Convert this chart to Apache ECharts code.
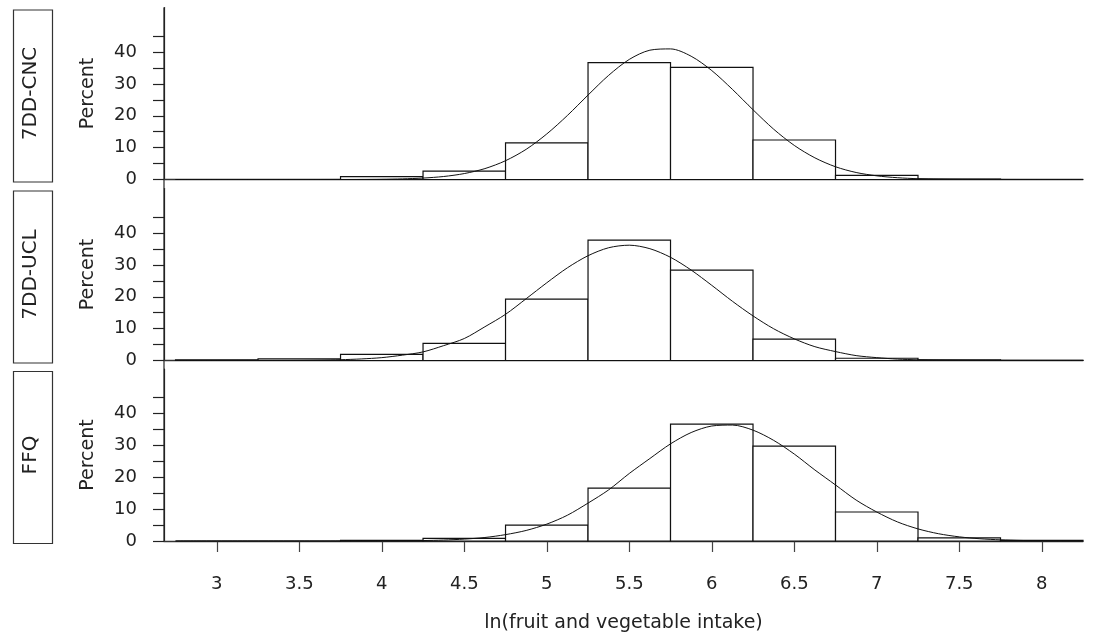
<!DOCTYPE html>
<html><head><meta charset="utf-8">
<script src="https://cdn.jsdelivr.net/npm/echarts@6/dist/echarts.min.js"></script>
<style>html,body{margin:0;padding:0;background:#fff}#c{width:1093px;height:641px}</style>
</head><body><div id="c"></div>
<script>
// ---- data ----
const panelNames = ['7DD-CNC', '7DD-UCL', 'FFQ'];
const binCenters = [3, 3.5, 4, 4.5, 5, 5.5, 6, 6.5, 7, 7.5, 8];
const pctCNC = [0, 0, 0.9, 2.6, 11.5, 36.7, 35.2, 12.4, 1.3, 0.1, 0];
const pctUCL = [0.2, 0.5, 1.9, 5.4, 19.3, 37.8, 28.4, 6.7, 0.7, 0.2, 0.05];
const pctFFQ = [0, 0, 0.2, 0.8, 5.0, 16.6, 36.7, 29.8, 9.1, 1.0, 0.2];
const curveX = [2.75, 2.875, 3, 3.125, 3.25, 3.375, 3.5, 3.625,
  3.75, 3.875, 4, 4.125, 4.25, 4.375, 4.5, 4.625, 4.75, 4.875,
  5, 5.125, 5.25, 5.375, 5.5, 5.625, 5.75, 5.875, 6, 6.125,
  6.25, 6.375, 6.5, 6.625, 6.75, 6.875, 7, 7.125, 7.25, 7.375,
  7.5, 7.625, 7.75, 7.875, 8, 8.125, 8.25];
const curveCNC = [0, 0, 0, 0, 0, 0, 0, 0,
  0.01, 0.03, 0.08, 0.2, 0.45, 0.94, 1.86, 3.42, 5.9, 9.47,
  14.3, 20.1, 26.5, 32.7, 37.7, 40.6, 41.0, 38.7, 34.2, 28.3,
  21.9, 15.8, 10.7, 6.8, 4.0, 2.2, 1.15, 0.56, 0.25, 0.1,
  0.04, 0.02, 0.01, 0, 0, 0, 0];
const curveUCL = [0, 0, 0, 0.005, 0.01, 0.02, 0.05, 0.12,
  0.25, 0.49, 0.9, 1.68, 2.7, 4.67, 6.9, 10.6, 14.5, 19.4,
  24.4, 29.1, 32.9, 35.4, 36.2, 35.1, 32.4, 28.4, 23.6, 18.6,
  14.0, 9.97, 6.8, 4.34, 2.8, 1.54, 0.9, 0.44, 0.22, 0.1,
  0.05, 0.02, 0.01, 0, 0, 0, 0];
const curveFFQ = [0, 0, 0, 0, 0, 0, 0, 0,
  0.005, 0.01, 0.03, 0.07, 0.14, 0.3, 0.6, 1.1, 2.0, 3.31,
  5.3, 8.09, 11.9, 16.05, 21.2, 25.9, 30.5, 34.05, 36.1, 36.4,
  34.8, 31.6, 27.3, 22.3, 17.6, 12.85, 9.1, 6.0, 3.8, 2.28,
  1.3, 0.71, 0.36, 0.17, 0.08, 0.04, 0.02];
const xTickValues = [3, 3.5, 4, 4.5, 5, 5.5, 6, 6.5, 7, 7.5, 8];
const yTickValues = [0, 5, 10, 15, 20, 25, 30, 35, 40, 45];
const yLabelValues = [0, 10, 20, 30, 40];
const xTitle = 'ln(fruit and vegetable intake)';
const yTitle = 'Percent';

// ---- layout ----
const FONT = 'DejaVu Sans';
const INK = '#222';
const gridLeft = 164, gridRight = 10, gridH = 172;
const gridTops = [7.5, 188.5, 369];
const xMin = 2.68, xMax = 8.25, yMax = 54;
const binW = binCenters[1] - binCenters[0];
const pctAll = [pctCNC, pctUCL, pctFFQ];
const curveAll = [curveCNC, curveUCL, curveFFQ];

const grids = [], xAxes = [], yAxes = [], series = [], graphics = [];
gridTops.forEach((top, i) => {
  const last = i === gridTops.length - 1;
  grids.push({left: gridLeft, right: gridRight, top: top, height: gridH});
  xAxes.push({
    type: 'value', gridIndex: i, min: xMin, max: xMax,
    axisLine: {show: true, onZero: false, lineStyle: {color: '#333', width: 1.3}},
    axisTick: {show: last, length: 11, customValues: xTickValues, lineStyle: {color: '#444', width: 1.2}},
    axisLabel: {show: last, customValues: xTickValues, margin: 34, fontFamily: FONT, fontSize: 18, color: INK},
    splitLine: {show: false},
    name: last ? xTitle : '', nameLocation: 'middle', nameGap: 73,
    nameTextStyle: {fontFamily: FONT, fontSize: 19, color: INK}
  });
  yAxes.push({
    type: 'value', gridIndex: i, min: 0, max: yMax,
    axisLine: {show: true, lineStyle: {color: INK, width: 1.2}},
    axisTick: {show: true, length: 11, customValues: yTickValues, lineStyle: {color: INK, width: 1.2}},
    axisLabel: {customValues: yLabelValues, margin: 27, fontFamily: FONT, fontSize: 18, color: INK, padding: [8, 0, 0, 0]},
    splitLine: {show: false},
    name: yTitle, nameLocation: 'middle', nameGap: 66, nameRotate: 90,
    nameTextStyle: {fontFamily: FONT, fontSize: 19, color: INK}
  });
  series.push({
    type: 'custom', xAxisIndex: i, yAxisIndex: i, z: 2,
    data: binCenters.map((c, j) => [c, pctAll[i][j]]),
    renderItem: function (params, api) {
      const c = api.value(0), v = api.value(1);
      const p0 = api.coord([c - binW / 2, v]);
      const p1 = api.coord([c + binW / 2, 0]);
      return {type: 'rect', shape: {x: p0[0], y: p0[1], width: p1[0] - p0[0], height: p1[1] - p0[1]},
        style: {fill: '#fff', stroke: '#111', lineWidth: 1.2}};
    }
  });
  series.push({
    type: 'line', xAxisIndex: i, yAxisIndex: i, z: 3,
    data: curveX.map((x, j) => [x, curveAll[i][j]]),
    smooth: 0.3, showSymbol: false, symbol: 'none',
    lineStyle: {color: '#111', width: 1}
  });
  // panel label box
  graphics.push({
    type: 'rect', left: 11, top: top, shape: {width: 39, height: gridH},
    style: {fill: 'none', stroke: '#333', lineWidth: 1.2}
  });
  graphics.push({
    type: 'text', x: 31, y: top + gridH / 2, rotation: Math.PI / 2,
    style: {text: panelNames[i], fontFamily: FONT, fontSize: 20, fill: INK, align: 'center', verticalAlign: 'middle'}
  });
});
// continuous vertical axis line across the panels
graphics.push({
  type: 'line', shape: {x1: gridLeft, y1: gridTops[0], x2: gridLeft, y2: gridTops[2] + gridH},
  style: {stroke: INK, lineWidth: 1.2}
});

const chart = echarts.init(document.getElementById('c'), null, {renderer: 'canvas'});
chart.setOption({
  animation: false,
  backgroundColor: '#fff',
  grid: grids, xAxis: xAxes, yAxis: yAxes, series: series, graphic: graphics
});
</script>
</body></html>
